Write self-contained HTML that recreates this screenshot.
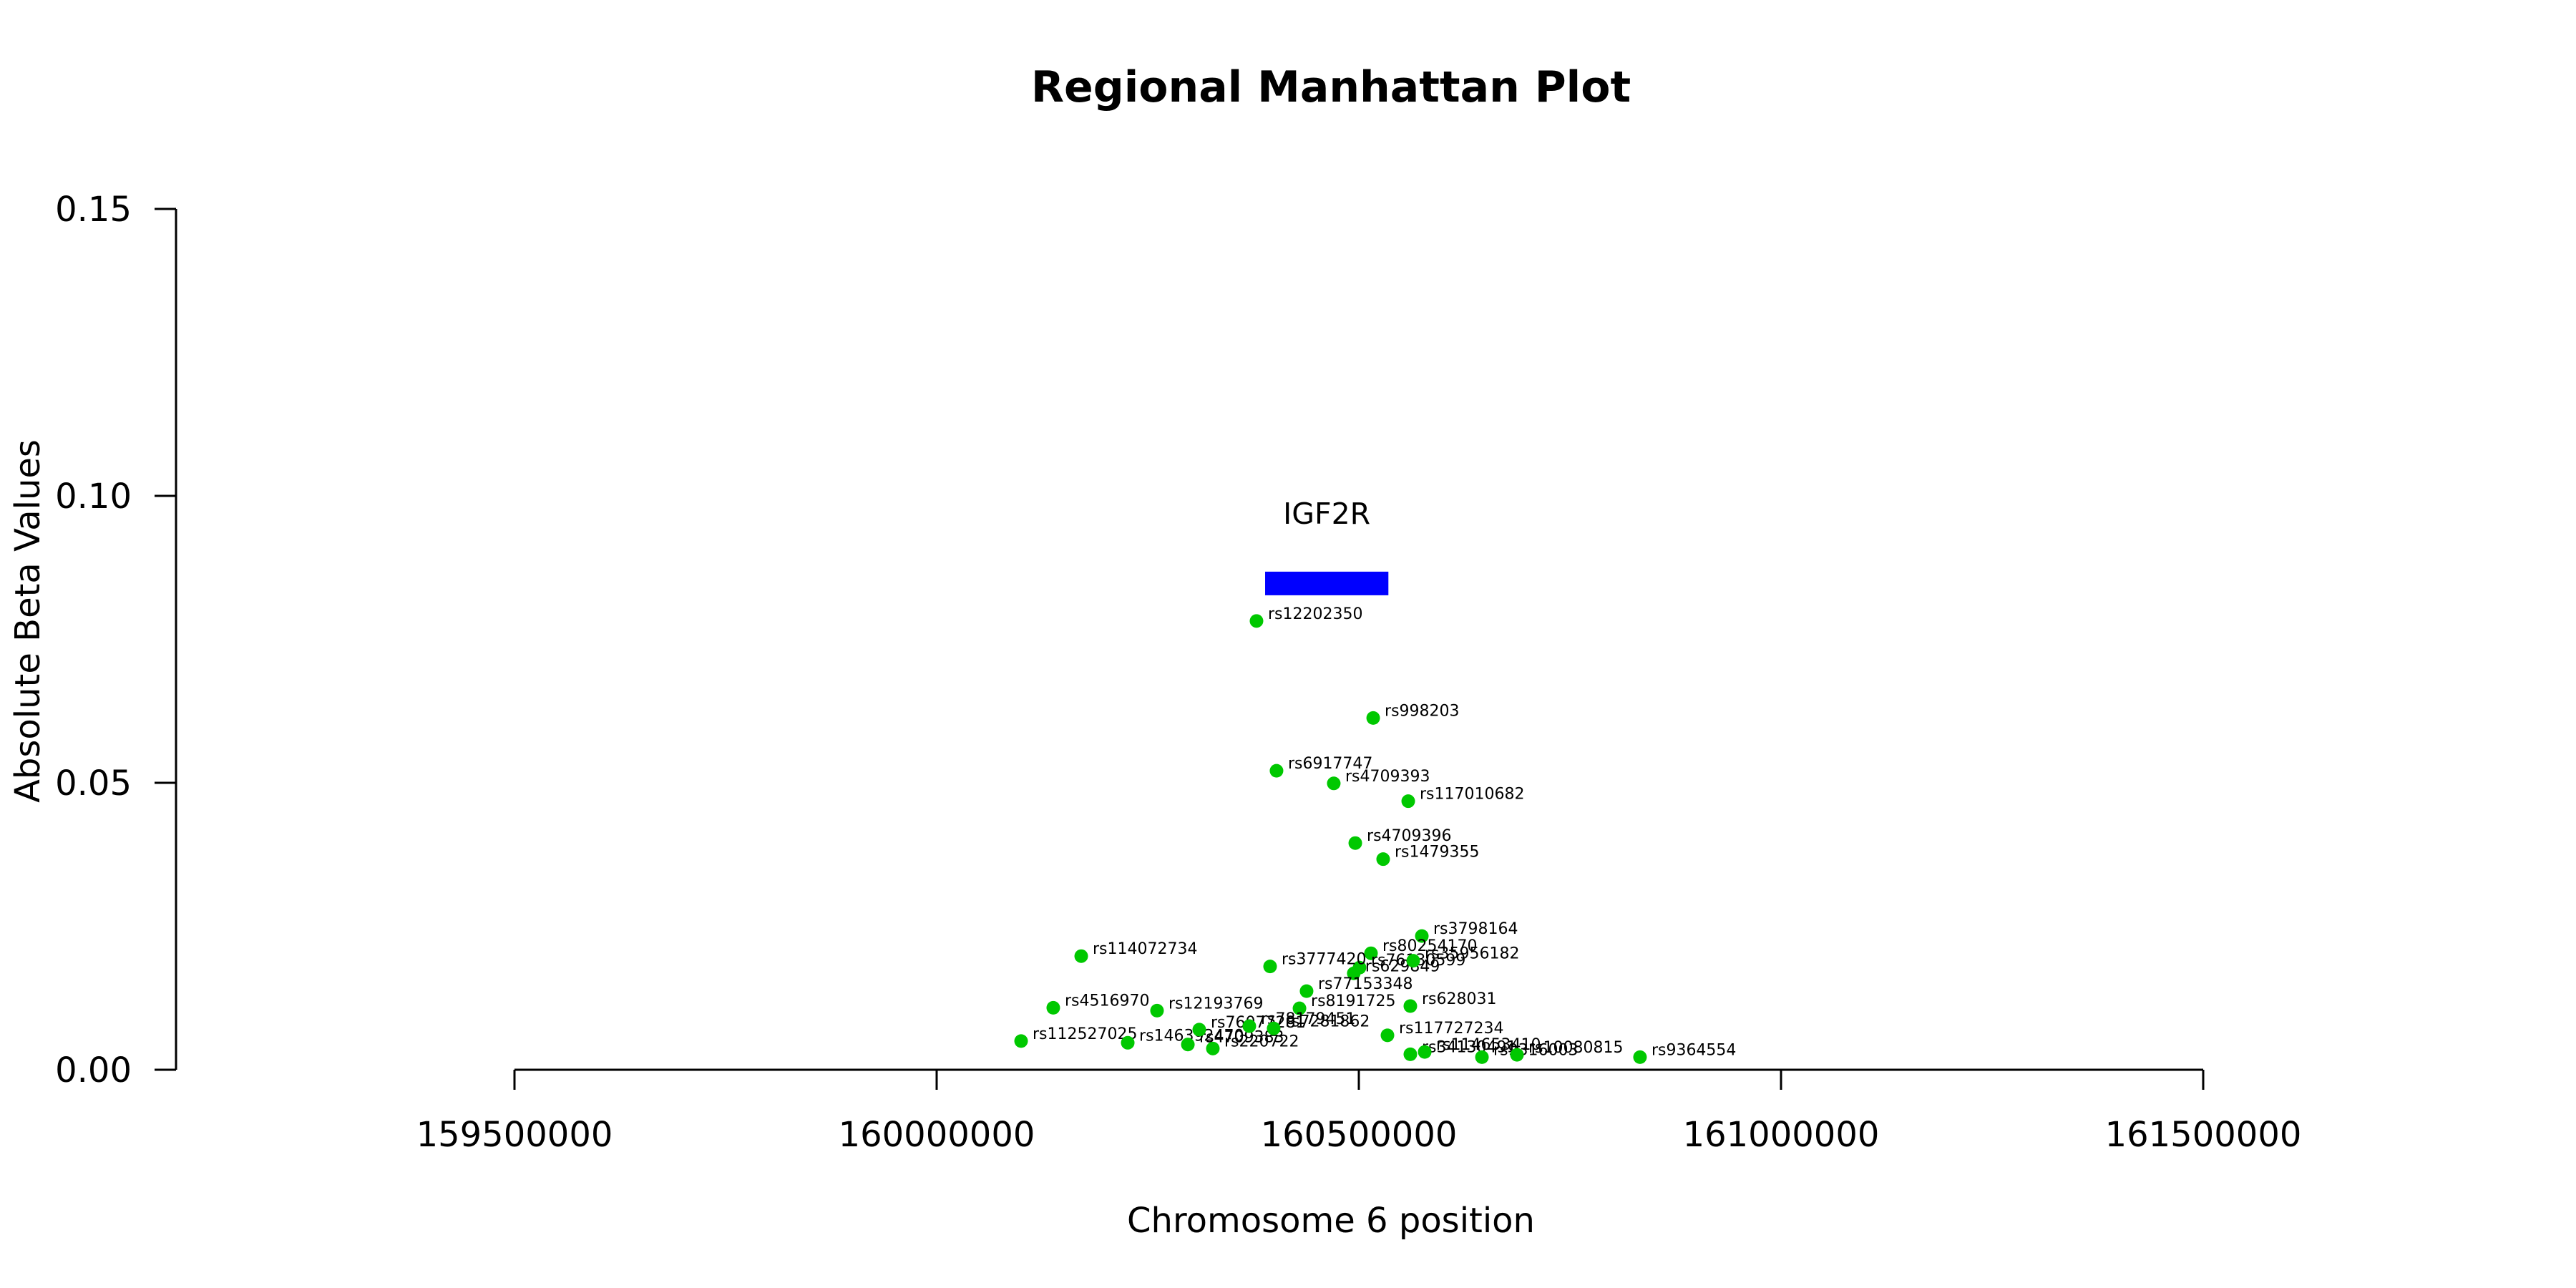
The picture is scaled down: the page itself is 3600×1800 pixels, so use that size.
<!DOCTYPE html>
<html><head><meta charset="utf-8"><style>
html,body{margin:0;padding:0;background:#fff;}
svg{display:block;font-family:"DejaVu Sans","Liberation Sans",sans-serif;}
</style></head><body>
<svg width="3600" height="1800" viewBox="0 0 3600 1800">
<rect width="3600" height="1800" fill="#fff"/>
<g id="axes"></g>
<g id="marks"></g>
</svg>
<script>
const snpNames = ["rs12202350","rs998203","rs6917747","rs4709393","rs117010682","rs4709396","rs1479355","rs3798164","rs80254170","rs76130599","rs629849","rs35956182","rs3777420","rs77153348","rs8191725","rs628031","rs117727234","rs34130491","rs114653410","rs9316003","rs10080815","rs9364554","rs114072734","rs4516970","rs12193769","rs112527025","rs146392470","rs4709383","rs220722","rs76077281","rs78179451","rs7281862"];
const snpPos = [160378800,160517000,160402500,160470300,160558500,160495800,160528800,160574600,160514400,160500800,160494000,160564400,160394900,160438100,160429700,160561000,160533900,160561000,160578000,160645800,160687300,160833000,160171200,160138100,160261000,160100000,160226300,160297500,160327100,160311000,160370300,160399100];
const snpBeta = [0.0782,0.0613,0.0521,0.0499,0.0468,0.0395,0.0367,0.0233,0.0203,0.0178,0.0168,0.0190,0.0180,0.0137,0.0107,0.0111,0.0060,0.0027,0.0031,0.0022,0.0026,0.0022,0.0198,0.0108,0.0103,0.0050,0.0047,0.0044,0.0037,0.0070,0.0076,0.0072];
const xTicks = [159500000,160000000,160500000,161000000,161500000];
const yTicks = [0.00,0.05,0.10,0.15];
const geneName = ["IGF2R"];
const geneStart = [160389000];
const geneEnd = [160535000];
const geneLevel = [0.0848];

const NS="http://www.w3.org/2000/svg";
const X0=719, X1=3079, XMIN=159500000, XMAX=161500000;
const Y0=1495, Y1=292, YMIN=0, YMAX=0.15;
function xs(v){return X0+(v-XMIN)/(XMAX-XMIN)*(X1-X0);}
function ys(v){return Y0-(v-YMIN)/(YMAX-YMIN)*(Y0-Y1);}
function mk(tag,attrs,parent,text){const e=document.createElementNS(NS,tag);for(const k in attrs)e.setAttribute(k,attrs[k]);if(text!==undefined)e.textContent=text;parent.appendChild(e);return e;}
const axes=document.getElementById('axes'), marks=document.getElementById('marks');
const svg=document.querySelector('svg');

let t=mk('text',{x:1860,y:142,'font-size':60,'font-weight':'bold','text-anchor':'middle',fill:'#000'},svg,'Regional Manhattan Plot');



// y axis
let l=mk('line',{x1:246,y1:ys(0),x2:246,y2:ys(0.15),stroke:'#000','stroke-width':3},axes);


yTicks.forEach(v=>{
  const tk=mk('line',{x1:216,y1:ys(v),x2:246,y2:ys(v),stroke:'#000','stroke-width':3},axes);
  
  
  const tl=mk('text',{x:184,y:ys(v)+17,'font-size':48,'text-anchor':'end',fill:'#000'},axes,v.toFixed(2));
  
  
});
// x axis
l=mk('line',{x1:xs(XMIN),y1:Y0,x2:xs(XMAX),y2:Y0,stroke:'#000','stroke-width':3},axes);


xTicks.forEach(v=>{
  const tk=mk('line',{x1:xs(v),y1:Y0,x2:xs(v),y2:Y0+28,stroke:'#000','stroke-width':3},axes);
  
  
  const tl=mk('text',{x:xs(v),y:1602,'font-size':48,'text-anchor':'middle',fill:'#000'},axes,String(v));
  
  
});
t=mk('text',{x:1860,y:1722,'font-size':48,'text-anchor':'middle',fill:'#000'},axes,'Chromosome 6 position');


t=mk('text',{x:0,y:0,'font-size':48,'text-anchor':'middle',fill:'#000',transform:'translate(55,868) rotate(-90)'},axes,'Absolute Beta Values');



// gene
geneName.forEach((g,i)=>{
  const r=mk('rect',{x:xs(geneStart[i]),y:ys(geneLevel[i])-16,width:xs(geneEnd[i])-xs(geneStart[i]),height:33,fill:'#0000ff'},marks);
  
  
  const gl=mk('text',{x:(xs(geneStart[i])+xs(geneEnd[i]))/2,y:ys(geneLevel[i])-83,'font-size':41,'text-anchor':'middle',fill:'#000'},marks,g);
  
  
});

// points
snpNames.forEach((n,i)=>{
  const cx=xs(snpPos[i]), cy=ys(snpBeta[i]);
  const c=mk('circle',{cx:cx,cy:cy,r:9.5,fill:'#00c800'},marks);
  
  
  const tl=mk('text',{x:cx+16,y:cy-3,'font-size':22,fill:'#000'},marks,n);
  
  
});
</script>
</body></html>
